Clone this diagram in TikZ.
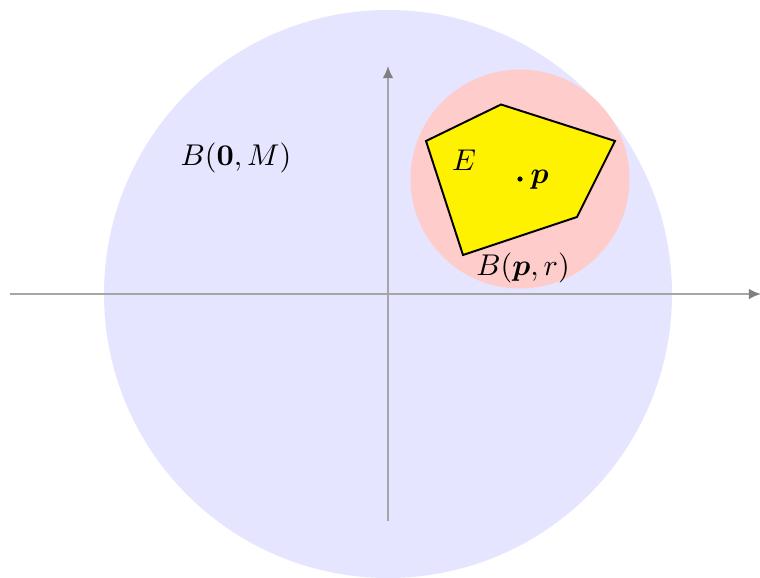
\documentclass[tikz,border=0pt]{standalone}
\usepackage{amsmath}
\usetikzlibrary{arrows.meta}
\begin{document}
\begin{tikzpicture}[x=0.333pt,y=-0.333pt,
  axis/.style={draw=black!35,line width=0.6pt,-{Latex[length=4pt,width=3.5pt,color=black!50]}},
  poly/.style={draw=black,fill=yellow,line width=0.65pt,line join=miter},
  lbl/.style={inner sep=0pt}]
\useasboundingbox (0,0) rectangle (760,577);
% big ball
\coordinate (O) at (388,294);
\fill[blue!10] (O) circle (284);
% small ball
\coordinate (p) at (520,179);
\fill[red!20] (p) circle (109.5);
% axes
\coordinate (xl) at (10,294);
\coordinate (xr) at (761,294);
\coordinate (yb) at (388,521);
\coordinate (yt) at (388,66);
\draw[axis] (xl) -- (xr);
\draw[axis] (yb) -- (yt);
% polygon E
\coordinate (e1) at (426,141);
\coordinate (e2) at (501,104.5);
\coordinate (e3) at (615,141);
\coordinate (e4) at (577,217);
\coordinate (e5) at (463,255);
\draw[poly] (e1) -- (e2) -- (e3) -- (e4) -- (e5) -- cycle;
% labels
\node[lbl] (lM) at (236,158) {$B(\mathbf{0},M)$};
\node[lbl] (lE) at (464,160) {$E$};
\fill (p) circle (2.6);
\node[lbl,anchor=west] (lp) at (530,180) {$\boldsymbol{p}$};
\node[lbl] (lr) at (523,268) {$B(\boldsymbol{p},r)$};
\end{tikzpicture}
\end{document}
